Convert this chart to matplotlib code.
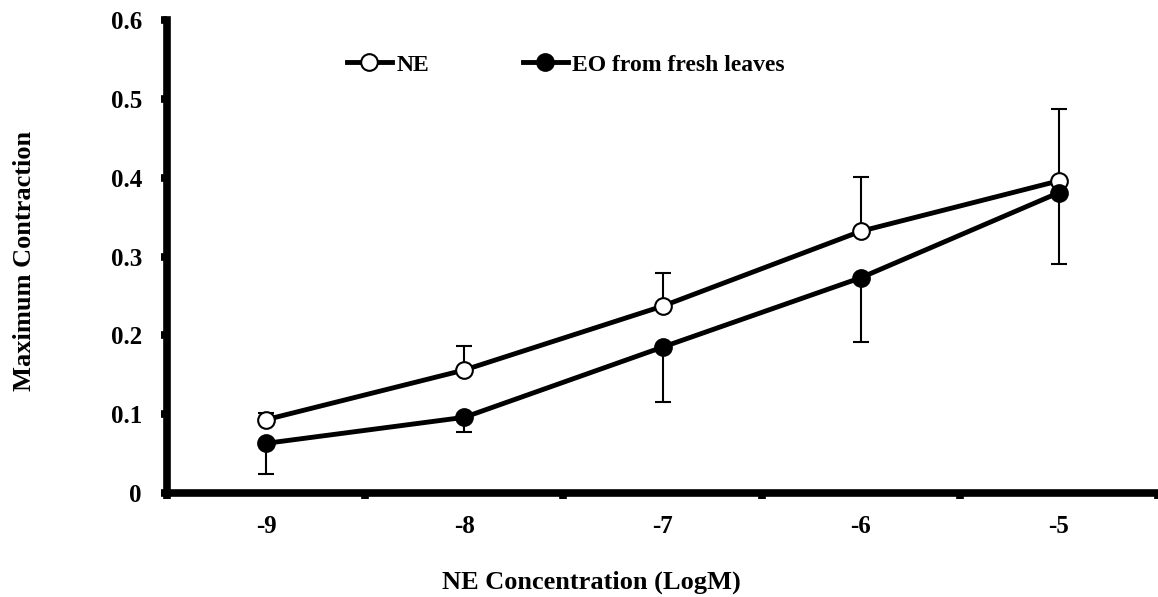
import matplotlib
matplotlib.use('Agg')
import matplotlib.pyplot as plt
import numpy as np

######################################################################

concentrations = ['-9', '-8', '-7', '-6', '-5']

ne_mean = [0.093, 0.156, 0.237, 0.332, 0.396]
ne_err = [0.008, 0.031, 0.042, 0.069, 0.091]

eo_mean = [0.063, 0.096, 0.185, 0.273, 0.381]
eo_err = [0.039, 0.019, 0.070, 0.082, 0.091]

######################################################################

plt.rcParams['font.family'] = 'Liberation Serif'
plt.rcParams['font.weight'] = 'bold'

fig = plt.figure(figsize = (11.58, 5.97), dpi = 100)
ax = fig.add_axes([167 / 1158, 1 - 493 / 597, 1 - 167 / 1158, (493 - 20) / 597])

x = np.arange(1, len(concentrations) + 1)

zeros = [0] * len(x)

ax.errorbar(x, ne_mean, yerr = [zeros, ne_err], fmt = 'none',
            ecolor = 'black', elinewidth = 1.5, capsize = 6, capthick = 1.5, zorder = 2)
ax.errorbar(x, eo_mean, yerr = [eo_err, zeros], fmt = 'none',
            ecolor = 'black', elinewidth = 1.5, capsize = 6, capthick = 1.5, zorder = 2)

ax.plot(x, ne_mean, color = 'black', lw = 3.5, marker = 'o', ms = 12,
        mfc = 'white', mec = 'black', mew = 1.5, label = 'NE', zorder = 3)
ax.plot(x, eo_mean, color = 'black', lw = 3.5, marker = 'o', ms = 12,
        mfc = 'black', mec = 'black', mew = 1.5, label = 'EO from fresh leaves', zorder = 4)

ax.set_xlim(0.5, 5.5)
ax.set_ylim(0, 0.6)

ax.spines['top'].set_visible(False)
ax.spines['right'].set_visible(False)
for s in ['left', 'bottom']:
    ax.spines[s].set_linewidth(5.5)

ax.set_yticks([0, 0.1, 0.2, 0.3, 0.4, 0.5, 0.6])
ax.set_yticklabels(['0', '0.1', '0.2', '0.3', '0.4', '0.5', '0.6'], fontsize = 18)
ax.tick_params(axis = 'y', direction = 'out', length = 4, width = 5.5, pad = 14)

# category boundaries get the tick marks, centres get the labels
ax.set_xticks(np.arange(0.5, 6.0, 1.0))
ax.set_xticklabels([])
ax.tick_params(axis = 'x', which = 'major', direction = 'out', length = 4, width = 5.5)
ax.set_xticks(x, minor = True)
ax.set_xticklabels(concentrations, minor = True, fontsize = 18)
ax.tick_params(axis = 'x', which = 'minor', length = 0, pad = 16)

ax.set_xlabel('NE Concentration (LogM)', fontsize = 19, fontweight = 'bold')
ax.xaxis.set_label_coords(0.428, -0.163)
ax.set_ylabel('Maximum Contraction', fontsize = 19, fontweight = 'bold')
ax.yaxis.set_label_coords(-0.132, 0.49)

ax.legend(loc = 'center left', bbox_to_anchor = (0.16, 0.905), ncol = 2, frameon = False,
          fontsize = 17, handlelength = 1.9, handletextpad = 0.2, columnspacing = 3.97)

fig.savefig('out.png', dpi = 100)
